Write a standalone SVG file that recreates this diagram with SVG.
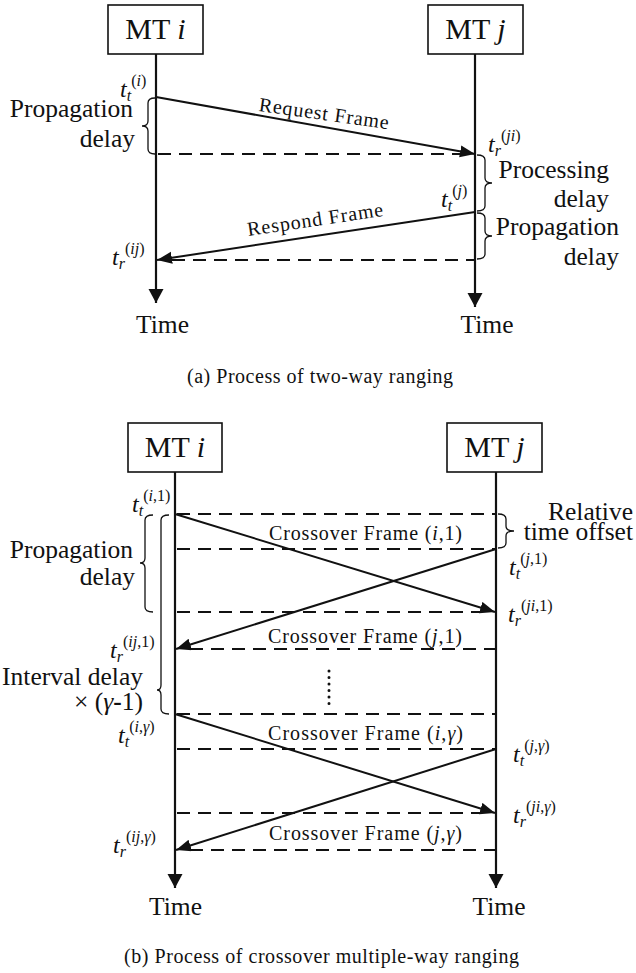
<svg xmlns="http://www.w3.org/2000/svg" width="636" height="973" viewBox="0 0 636 973">
<style>
text{font-family:"Liberation Serif","Times New Roman",serif;fill:#111}
.big{font-size:30px}
.lab{font-size:25.5px}
.msg{font-size:20px}
.cap{font-size:20px}
.t{font-size:24px;font-style:italic}
.s{font-size:16px}
.it{font-style:italic}
.box{fill:#fff;stroke:#111;stroke-width:1.6}
.life{stroke:#111;stroke-width:2.2;fill:none}
.arr{stroke:#111;stroke-width:2;fill:none}
.dash{stroke:#111;stroke-width:2;fill:none;stroke-dasharray:13 8}
.brace{stroke:#111;stroke-width:1.3;fill:none}
</style>
<defs>
<marker id="lh" markerUnits="userSpaceOnUse" markerWidth="16" markerHeight="16" refX="14" refY="7.5" orient="auto"><path d="M0,0 L14,7.5 L0,15 Z" fill="#111"/></marker>
<marker id="mh" markerUnits="userSpaceOnUse" markerWidth="16" markerHeight="14" refX="15" refY="6" orient="auto"><path d="M0,0 L15,6 L0,12 Z" fill="#111"/></marker>
</defs>

<!-- (a) -->
<g id="a-mt-i"><rect class="box" x="108" y="5" width="95" height="49"/><text class="big" x="155.5" y="39" text-anchor="middle">MT <tspan class="it">i</tspan></text></g>
<g id="a-mt-j"><rect class="box" x="428" y="5" width="95" height="49"/><text class="big" x="475.5" y="39" text-anchor="middle">MT <tspan class="it">j</tspan></text></g>

<g id="a-connectors">
<line class="life" x1="156" y1="54" x2="156" y2="303" marker-end="url(#lh)"/>
<line class="life" x1="475" y1="54" x2="475" y2="307" marker-end="url(#lh)"/>
<line class="arr" x1="156" y1="97" x2="475" y2="154" marker-end="url(#mh)"/>
<line class="dash" x1="158" y1="154" x2="462" y2="154"/>
<line class="arr" x1="475" y1="212" x2="157" y2="260" marker-end="url(#mh)"/>
<line class="dash" x1="172" y1="260" x2="475" y2="260"/>
</g>

<g id="a-braces">
<path class="brace" d="M155,98 Q148,98 148,103 L148,121 Q148,126 142,126 Q148,126 148,131 L148,149 Q148,154 155,154"/>
<path class="brace" d="M477,155 Q485,155 485,160 L485,178 Q485,183 492,183 Q485,183 485,188 L485,206 Q485,211 477,211"/>
<path class="brace" d="M477,213 Q485,213 485,218 L485,231 Q485,236 492,236 Q485,236 485,241 L485,254 Q485,259 477,259"/>
</g>

<g id="a-labels">
<text class="msg" x="323" y="120" text-anchor="middle" textLength="131" lengthAdjust="spacing" transform="rotate(8 323 120)">Request Frame</text>
<text class="msg" x="316" y="226" text-anchor="middle" textLength="137" lengthAdjust="spacing" transform="rotate(-8.5 316 226)">Respond Frame</text>
<text class="lab" x="133" y="117" text-anchor="end">Propagation</text>
<text class="lab" x="135" y="147" text-anchor="end">delay</text>
<text class="lab" x="609" y="178" text-anchor="end">Processing</text>
<text class="lab" x="609" y="207" text-anchor="end">delay</text>
<text class="lab" x="619" y="235" text-anchor="end">Propagation</text>
<text class="lab" x="619" y="265" text-anchor="end">delay</text>
<text x="120" y="97"><tspan class="t">t</tspan><tspan class="s it" dy="4">t</tspan><tspan class="s" dy="-15">(<tspan class="it">i</tspan>)</tspan></text>
<text x="488" y="152"><tspan class="t">t</tspan><tspan class="s it" dy="4">r</tspan><tspan class="s" dy="-15">(<tspan class="it">ji</tspan>)</tspan></text>
<text x="441" y="207"><tspan class="t">t</tspan><tspan class="s it" dy="4">t</tspan><tspan class="s" dy="-15">(<tspan class="it">j</tspan>)</tspan></text>
<text x="112" y="265"><tspan class="t">t</tspan><tspan class="s it" dy="4">r</tspan><tspan class="s" dy="-15">(<tspan class="it">ij</tspan>)</tspan></text>
<text class="lab" x="162.5" y="333" text-anchor="middle">Time</text>
<text class="lab" x="487" y="333" text-anchor="middle">Time</text>
<text class="cap" x="187" y="383" textLength="266" lengthAdjust="spacing">(a) Process of two-way ranging</text>
</g>

<!-- (b) -->
<g id="b-mt-i"><rect class="box" x="128" y="423" width="94" height="49"/><text class="big" x="175" y="457" text-anchor="middle">MT <tspan class="it">i</tspan></text></g>
<g id="b-mt-j"><rect class="box" x="447" y="423" width="95" height="49"/><text class="big" x="494.5" y="457" text-anchor="middle">MT <tspan class="it">j</tspan></text></g>

<g id="b-connectors">
<line class="life" x1="175" y1="472" x2="175" y2="888" marker-end="url(#lh)"/>
<line class="life" x1="496" y1="472" x2="496" y2="888" marker-end="url(#lh)"/>
<line class="dash" x1="177" y1="514" x2="496" y2="514"/>
<line class="dash" x1="177" y1="549" x2="496" y2="549"/>
<line class="dash" x1="177" y1="612" x2="482" y2="612"/>
<line class="dash" x1="190" y1="649" x2="496" y2="649"/>
<line class="dash" x1="177" y1="714" x2="496" y2="714"/>
<line class="dash" x1="177" y1="749" x2="496" y2="749"/>
<line class="dash" x1="177" y1="813" x2="482" y2="813"/>
<line class="dash" x1="190" y1="850" x2="496" y2="850"/>
<line class="arr" x1="175" y1="514" x2="495" y2="612" marker-end="url(#mh)"/>
<line class="arr" x1="496" y1="549" x2="176" y2="649" marker-end="url(#mh)"/>
<line class="arr" x1="175" y1="714" x2="495" y2="813" marker-end="url(#mh)"/>
<line class="arr" x1="496" y1="749" x2="176" y2="850" marker-end="url(#mh)"/>
<line x1="329" y1="671" x2="329" y2="704" stroke="#111" stroke-width="3" stroke-linecap="round" stroke-dasharray="0 6.5"/>
</g>

<g id="b-braces">
<path class="brace" d="M498,514 Q506,514 506,519 L506,526 Q506,531 514,531 Q506,531 506,536 L506,543 Q506,548 498,548"/>
<path class="brace" d="M153,515 Q145,515 145,520 L145,558 Q145,563 140,563 Q145,563 145,568 L145,607 Q145,612 153,612"/>
<path class="brace" d="M169,515 Q161,515 161,520 L161,685 Q161,690 157,690 Q161,690 161,695 L161,709 Q161,714 169,714"/>
</g>

<g id="b-labels">
<text class="msg" x="269" y="540" textLength="193" lengthAdjust="spacing">Crossover Frame (<tspan class="it">i</tspan>,1)</text>
<text class="msg" x="268" y="643" textLength="194" lengthAdjust="spacing">Crossover Frame (<tspan class="it">j</tspan>,1)</text>
<text class="msg" x="268" y="740" textLength="195" lengthAdjust="spacing">Crossover Frame (<tspan class="it">i</tspan>,<tspan class="it">γ</tspan>)</text>
<text class="msg" x="269" y="840" textLength="193" lengthAdjust="spacing">Crossover Frame (<tspan class="it">j</tspan>,<tspan class="it">γ</tspan>)</text>
<text class="lab" x="633" y="520" text-anchor="end">Relative</text>
<text class="lab" x="633" y="540" text-anchor="end">time offset</text>
<text class="lab" x="133" y="558" text-anchor="end">Propagation</text>
<text class="lab" x="135" y="585" text-anchor="end">delay</text>
<text class="lab" x="143" y="685" text-anchor="end">Interval delay</text>
<text class="lab" x="143" y="710" text-anchor="end">× (<tspan class="it">γ</tspan><tspan font-weight="bold">-</tspan>1)</text>
<text x="132" y="512"><tspan class="t">t</tspan><tspan class="s it" dy="4">t</tspan><tspan class="s" dy="-15">(<tspan class="it">i</tspan>,1)</tspan></text>
<text x="110" y="658"><tspan class="t">t</tspan><tspan class="s it" dy="4">r</tspan><tspan class="s" dy="-15">(<tspan class="it">ij</tspan>,1)</tspan></text>
<text x="118" y="743"><tspan class="t">t</tspan><tspan class="s it" dy="4">t</tspan><tspan class="s" dy="-15">(<tspan class="it">i</tspan>,<tspan class="it">γ</tspan>)</tspan></text>
<text x="113" y="853"><tspan class="t">t</tspan><tspan class="s it" dy="4">r</tspan><tspan class="s" dy="-15">(<tspan class="it">ij</tspan>,<tspan class="it">γ</tspan>)</tspan></text>
<text x="509" y="575"><tspan class="t">t</tspan><tspan class="s it" dy="4">t</tspan><tspan class="s" dy="-15">(<tspan class="it">j</tspan>,1)</tspan></text>
<text x="508" y="622"><tspan class="t">t</tspan><tspan class="s it" dy="4">r</tspan><tspan class="s" dy="-15">(<tspan class="it">ji</tspan>,1)</tspan></text>
<text x="513" y="762"><tspan class="t">t</tspan><tspan class="s it" dy="4">t</tspan><tspan class="s" dy="-15">(<tspan class="it">j</tspan>,<tspan class="it">γ</tspan>)</tspan></text>
<text x="513" y="823"><tspan class="t">t</tspan><tspan class="s it" dy="4">r</tspan><tspan class="s" dy="-15">(<tspan class="it">ji</tspan>,<tspan class="it">γ</tspan>)</tspan></text>
<text class="lab" x="175.5" y="915" text-anchor="middle">Time</text>
<text class="lab" x="499" y="915" text-anchor="middle">Time</text>
<text class="cap" x="124" y="963" textLength="395" lengthAdjust="spacing">(b) Process of crossover multiple-way ranging</text>
</g>
</svg>
